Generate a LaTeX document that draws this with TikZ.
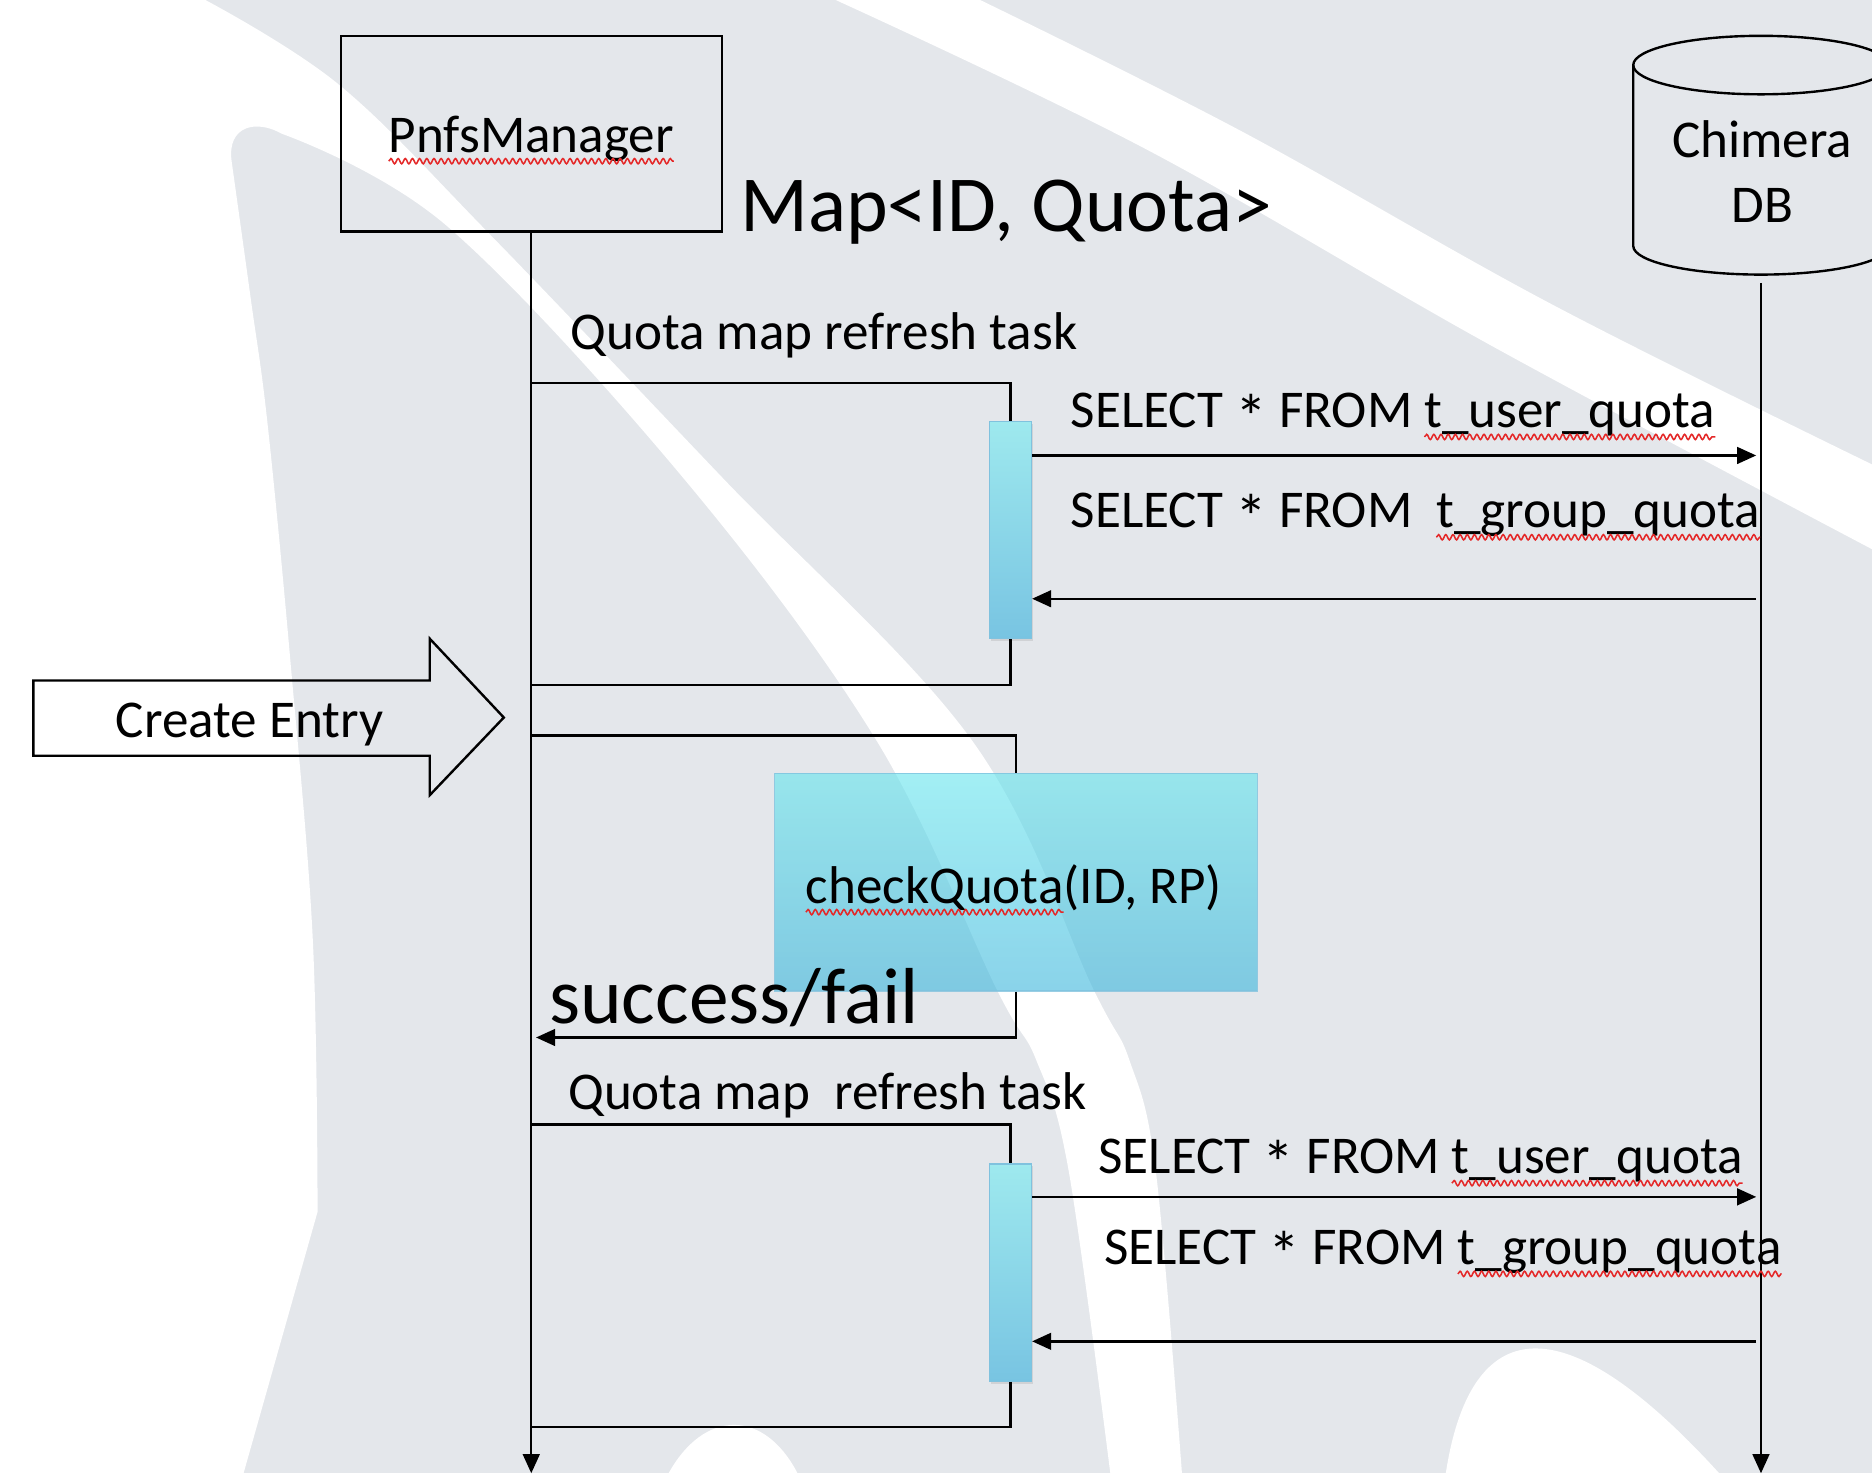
\documentclass[tikz,border=0pt]{standalone}
\usepackage{fontspec}
\setmainfont{Carlito}
\usetikzlibrary{arrows.meta,positioning,calc,shadows,decorations.pathmorphing}
\definecolor{bggray}  {RGB}{228,231,235}
\definecolor{bartop}  {RGB}{158,233,238}
\definecolor{barbot}  {RGB}{120,196,226}
\definecolor{barline} {RGB}{128,194,222}
\definecolor{chktop}  {RGB}{101,229,237}
\definecolor{chkbot}  {RGB}{60,182,220}
\definecolor{typored} {RGB}{228,40,40}
\newcommand{\sqlstar}{\raisebox{-10pt}{\scalebox{1.2}{*}}}
\tikzset{
  lbl/.style    ={font=\fontsize{44.5}{53}\selectfont, inner sep=0pt, outer sep=0pt},
  biglbl/.style ={font=\fontsize{66.5}{80}\selectfont, inner sep=0pt, outer sep=0pt},
  objbox/.style ={draw, line width=2pt, minimum width=319pt, minimum height=164pt},
  actbar/.style ={draw=barline, line width=1pt, top color=bartop, bottom color=barbot,
                  minimum width=35pt, minimum height=182pt, inner sep=0pt},
  chkbox/.style ={draw=barline, line width=1pt, top color=chktop, bottom color=chkbot,
                  fill opacity=0.6, draw opacity=0.8,
                  minimum width=404pt, minimum height=182pt, inner sep=0pt},
  frm/.style    ={line width=2pt},
  arr/.style    ={line width=2pt, -{Triangle[length=16pt,width=14pt]}},
  squig/.style  ={draw=typored, line width=1.3pt, decorate,
                  decoration={snake, segment length=6pt, amplitude=2.2pt}},
}

\begin{document}
\begin{tikzpicture}[x=1pt,y=-1pt]
  \useasboundingbox (0,0) rectangle (1568,1234);
  \clip (0,0) rectangle (1568,1234);
  %% watermark background
  \fill[bggray] (0,0) rectangle (1568,1234);
  \fill[white] (0,0) -- plot[smooth, tension=0.6] coordinates {(172,0) (284,71) (411,197) (605,400)
      (814,620) (916,829) (946,888) (968,980) (990,1234)}
    -- plot[smooth, tension=0.6] coordinates {(930,1234) (895,980) (868,888) (835,829) (734,620)
      (572,400) (374,189) (236,112)}
    .. controls (215,100) and (190,105) .. (194,135)
    -- plot[smooth, tension=0.6] coordinates {(194,135) (210,250) (224,354) (243,551) (262,787) (266,1015)}
    -- (204,1234) -- (0,1234) -- cycle;
  \fill[white] plot[smooth, tension=0.6] coordinates {(700,0) (960,125) (1250,290) (1568,460)}
    -- plot[smooth, tension=0.6] coordinates {(1568,389) (1300,255) (1040,110) (821,0)} -- cycle;
  \fill[white] (560,1234) .. controls (590,1180) and (640,1180) .. (668,1234) -- cycle;
  \fill[white] (1211,1234) .. controls (1230,1110) and (1300,1080) .. (1440,1234) -- cycle;

  %% actors
  \node[objbox] (pnfs) at (445,112) {};
  \node[lbl, anchor=base] (pnfslbl) at ([yshift=-16pt]pnfs.center) {PnfsManager};
  \draw[squig] ($(pnfslbl.base west)+(0,7)$) -- ($(pnfslbl.base east)+(0,7)$);
  \node[biglbl, anchor=base west] (map) at (620,194) {Map<ID, Quota>};

  \draw[frm] (1368,54.5) -- (1368,206) arc[start angle=180, end angle=360, x radius=107pt, y radius=24pt]
    -- (1582,54.5);
  \draw[frm] (1475,54.5) ellipse [x radius=107pt, y radius=24.5pt];
  \node[lbl, anchor=base] (dbname) at (1476,132) {Chimera};
  \node[lbl, anchor=base] (dbsub) at (1476,186) {DB};

  \coordinate (pend) at (445,1234);
  \coordinate (dtop) at (1475,237);
  \coordinate (dend) at (1475,1234);
  \draw[arr] (pnfs.south) -- (pend);
  \draw[arr] (dtop) -- (dend);

  %% first refresh task
  \coordinate (f1top) at (445,321);
  \coordinate (f1bot) at (445,574);
  \node[actbar, drop shadow={opacity=0.2, shadow xshift=1pt, shadow yshift=-2pt}] (bar1) at (846.5,444) {};
  \draw[frm] (f1top) -| (bar1.north);
  \draw[frm] (bar1.south) |- (f1bot);
  \node[lbl, anchor=base west] (task1) at (478,293) {Quota map refresh task};
  \coordinate (q1) at ($(bar1.north east)+(0,29)$);
  \coordinate (r1) at ($(bar1.north east)+(0,149)$);
  \draw[arr, shorten >=4pt] (q1) -- (q1 -| dtop);
  \draw[arr, shorten <=4pt] (r1 -| dtop) -- (r1);
  \node[lbl, anchor=base west] (sel1) at (897,358) {SELECT \sqlstar{} FROM};
  \node[lbl, right=10pt of sel1.base east, anchor=base west] (tab1) {t\_user\_quota};
  \draw[squig] ($(tab1.base west)+(0,8)$) -- ($(tab1.base east)+(0,8)$);
  \node[lbl, anchor=base west] (sel2) at (897,442) {SELECT \sqlstar{} FROM};
  \node[lbl, right=20pt of sel2.base east, anchor=base west] (tab2) {t\_group\_quota};
  \draw[squig] ($(tab2.base west)+(0,8)$) -- ($(tab2.base east)+(0,8)$);

  %% create entry
  \draw[frm] (28,570) -- (360,570) -- (360,535) -- (422,601) -- (360,666) -- (360,633) -- (28,633) -- cycle;
  \node[lbl, anchor=base] (entry) at (209,618) {Create Entry};

  %% quota check
  \coordinate (f2top) at (445,616);
  \coordinate (f2ret) at (445,869);
  \node[chkbox] (chk) at (851,739) {};
  \draw[frm] (f2top) -| (chk.north);
  \draw[arr, shorten >=4pt] (chk.south) |- (f2ret);
  \node[lbl, anchor=base west] (chkname) at (675,757) {checkQuota};
  \node[lbl, right=0pt of chkname.base east, anchor=base west] (chkargs) {(ID, RP)};
  \draw[squig] ($(chkname.base west)+(0,7)$) -- ($(chkname.base east)+(0,7)$);
  \node[biglbl, anchor=base west] (result) at (460,857) {success/fail};

  %% second refresh task
  \coordinate (f3top) at (445,942);
  \coordinate (f3bot) at (445,1195);
  \node[actbar, drop shadow={opacity=0.2, shadow xshift=1pt, shadow yshift=-2pt}] (bar2) at (846.5,1066) {};
  \draw[frm] (f3top) -| (bar2.north);
  \draw[frm] (bar2.south) |- (f3bot);
  \node[lbl, anchor=base west] (task2) at (476,929) {Quota map\ \ refresh task};
  \coordinate (q2) at ($(bar2.north east)+(0,28)$);
  \coordinate (r2) at ($(bar2.north east)+(0,149)$);
  \draw[arr, shorten >=4pt] (q2) -- (q2 -| dtop);
  \draw[arr, shorten <=4pt] (r2 -| dtop) -- (r2);
  \node[lbl, anchor=base west] (sel3) at (920,983) {SELECT \sqlstar{} FROM};
  \node[lbl, right=10pt of sel3.base east, anchor=base west] (tab3) {t\_user\_quota};
  \draw[squig] ($(tab3.base west)+(0,8)$) -- ($(tab3.base east)+(0,8)$);
  \node[lbl, anchor=base west] (sel4) at (925,1059) {SELECT \sqlstar{} FROM};
  \node[lbl, right=10pt of sel4.base east, anchor=base west] (tab4) {t\_group\_quota};
  \draw[squig] ($(tab4.base west)+(0,8)$) -- ($(tab4.base east)+(0,8)$);
\end{tikzpicture}
\end{document}
